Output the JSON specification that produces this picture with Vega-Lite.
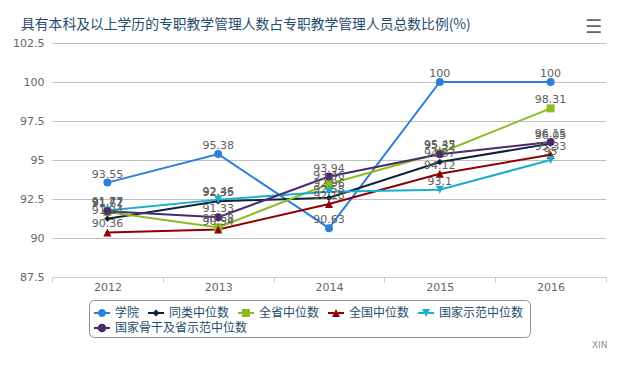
{
  "$schema": "https://vega.github.io/schema/vega-lite/v6.json",
  "width": 554,
  "height": 234,
  "autosize": "none",
  "padding": {"left": 52, "top": 43, "right": 14, "bottom": 101},
  "background": "white",
  "title": {
    "text": "具有本科及以上学历的专职教学管理人数占专职教学管理人员总数比例(%)",
    "anchor": "start",
    "frame": "group",
    "dx": -31,
    "dy": 36,
    "offset": 10,
    "baseline": "alphabetic",
    "font": "Noto Sans CJK SC",
    "fontSize": 13.8,
    "fontWeight": "normal",
    "color": "#274b6d"
  },
  "data": {
    "values": [
      {"year": "2012", "series": "学院", "value": 93.55},
      {"year": "2013", "series": "学院", "value": 95.38},
      {"year": "2014", "series": "学院", "value": 90.63},
      {"year": "2015", "series": "学院", "value": 100},
      {"year": "2016", "series": "学院", "value": 100},
      {"year": "2012", "series": "同类中位数", "value": 91.24},
      {"year": "2013", "series": "同类中位数", "value": 92.35},
      {"year": "2014", "series": "同类中位数", "value": 92.58},
      {"year": "2015", "series": "同类中位数", "value": 94.87},
      {"year": "2016", "series": "同类中位数", "value": 96.05},
      {"year": "2012", "series": "全省中位数", "value": 91.67},
      {"year": "2013", "series": "全省中位数", "value": 90.68},
      {"year": "2014", "series": "全省中位数", "value": 93.46},
      {"year": "2015", "series": "全省中位数", "value": 95.45},
      {"year": "2016", "series": "全省中位数", "value": 98.31},
      {"year": "2012", "series": "全国中位数", "value": 90.36},
      {"year": "2013", "series": "全国中位数", "value": 90.54},
      {"year": "2014", "series": "全国中位数", "value": 92.18},
      {"year": "2015", "series": "全国中位数", "value": 94.12},
      {"year": "2016", "series": "全国中位数", "value": 95.33},
      {"year": "2012", "series": "国家示范中位数", "value": 91.77},
      {"year": "2013", "series": "国家示范中位数", "value": 92.46},
      {"year": "2014", "series": "国家示范中位数", "value": 92.96},
      {"year": "2015", "series": "国家示范中位数", "value": 93.1},
      {"year": "2016", "series": "国家示范中位数", "value": 95},
      {"year": "2012", "series": "国家骨干及省示范中位数", "value": 91.72},
      {"year": "2013", "series": "国家骨干及省示范中位数", "value": 91.33},
      {"year": "2014", "series": "国家骨干及省示范中位数", "value": 93.94},
      {"year": "2015", "series": "国家骨干及省示范中位数", "value": 95.37},
      {"year": "2016", "series": "国家骨干及省示范中位数", "value": 96.15}
    ]
  },
  "encoding": {
    "x": {
      "field": "year",
      "type": "ordinal",
      "bandPosition": 0.5,
      "scale": {"type": "band", "paddingInner": 0, "paddingOuter": 0},
      "axis": {
        "title": "XIN",
        "titleX": 555,
        "titleY": 70,
        "titleAlign": "right",
        "titleAnchor": null,
        "titleBaseline": "alphabetic",
        "titleFont": "DejaVu Sans",
        "titleFontSize": 9,
        "titleFontWeight": "normal",
        "titleColor": "#909090",
        "labelAngle": 0,
        "tickBand": "extent",
        "grid": false,
        "domainColor": "#c0d0e0",
        "tickColor": "#c0d0e0",
        "tickSize": 5,
        "labelColor": "#666666",
        "labelFont": "DejaVu Sans",
        "labelFontSize": 11,
        "labelPadding": -1
      }
    },
    "y": {
      "field": "value",
      "type": "quantitative",
      "scale": {"domain": [87.5, 102.5], "zero": false, "nice": false},
      "axis": {
        "title": "☰",
        "titleAngle": 0,
        "titleX": 541,
        "titleY": -11,
        "titleAlign": "center",
        "titleAnchor": null,
        "titleBaseline": "alphabetic",
        "titleFont": "DejaVu Sans",
        "titleFontSize": 19,
        "titleFontWeight": "bold",
        "titleColor": "#666666",
        "values": [87.5, 90, 92.5, 95, 97.5, 100, 102.5],
        "format": ".4~g",
        "domain": false,
        "ticks": false,
        "gridColor": "#c0c0c0",
        "labelColor": "#666666",
        "labelFont": "DejaVu Sans",
        "labelFontSize": 11,
        "labelPadding": 8
      }
    }
  },
  "layer": [
    {
      "mark": {"type": "line", "strokeWidth": 2},
      "encoding": {
        "color": {
          "field": "series",
          "type": "nominal",
          "scale": {
            "domain": ["学院", "同类中位数", "全省中位数", "全国中位数", "国家示范中位数", "国家骨干及省示范中位数"],
            "range": ["#2f7ed8", "#0d233a", "#8bbc21", "#910000", "#1aadce", "#492970"]
          },
          "legend": null
        }
      }
    },
    {
      "mark": {"type": "point", "filled": true, "opacity": 1, "size": 64},
      "encoding": {
        "color": {
          "field": "series",
          "type": "nominal",
          "scale": {
            "domain": ["学院", "同类中位数", "全省中位数", "全国中位数", "国家示范中位数", "国家骨干及省示范中位数"],
            "range": ["#2f7ed8", "#0d233a", "#8bbc21", "#910000", "#1aadce", "#492970"]
          },
          "legend": null
        },
        "shape": {
          "field": "series",
          "type": "nominal",
          "scale": {
            "domain": ["学院", "同类中位数", "全省中位数", "全国中位数", "国家示范中位数", "国家骨干及省示范中位数"],
            "range": ["circle", "M0,-0.8L0.8,0L0,0.8L-0.8,0Z", "square", "M0,-1L1,1H-1Z", "M-1,-1H1L0,1Z", "circle"]
          },
          "legend": null
        }
      }
    },
    {
      "mark": {"type": "text", "dy": -5, "baseline": "alphabetic", "font": "DejaVu Sans", "fontSize": 11, "color": "#606060"},
      "encoding": {
        "text": {"field": "value", "type": "quantitative", "format": "~g"}
      }
    },
    {
      "transform": [{"filter": {"field": "series", "oneOf": ["学院", "同类中位数", "全省中位数", "全国中位数", "国家示范中位数"]}}],
      "mark": {"type": "point", "filled": true, "opacity": 0},
      "encoding": {
        "color": {
          "field": "series",
          "type": "nominal",
          "scale": {
            "domain": ["学院", "同类中位数", "全省中位数", "全国中位数", "国家示范中位数"],
            "range": ["#2f7ed8", "#0d233a", "#8bbc21", "#910000", "#1aadce"]
          },
          "legend": {
            "title": " ",
            "titleOrient": "bottom",
            "titleFontSize": 12,
            "titlePadding": 1,
            "orient": "none",
            "legendX": 37,
            "legendY": 257,
            "direction": "horizontal",
            "symbolSize": 196,
            "symbolStrokeWidth": 0,
            "labelFont": "Noto Sans CJK SC",
            "labelFontSize": 12,
            "labelColor": "#274b6d",
            "labelOffset": 6,
            "columnPadding": 7,
            "padding": 6,
            "strokeColor": "#909090",
            "cornerRadius": 5,
            "encode": {"symbols": {"update": {"opacity": {"value": 1}}}}
          }
        },
        "shape": {
          "field": "series",
          "type": "nominal",
          "scale": {
            "domain": ["学院", "同类中位数", "全省中位数", "全国中位数", "国家示范中位数"],
            "range": [
              "M-1.15,-0.15H-0.3V0.15H-1.15Z M0.3,-0.15H1.15V0.15H0.3Z M-0.57,0A0.57,0.57,0,1,1,0.57,0A0.57,0.57,0,1,1,-0.57,0Z",
              "M-1.15,-0.15H-0.3V0.15H-1.15Z M0.3,-0.15H1.15V0.15H0.3Z M0,-0.5L0.5,0L0,0.5L-0.5,0Z",
              "M-1.15,-0.15H-0.3V0.15H-1.15Z M0.3,-0.15H1.15V0.15H0.3Z M-0.57,-0.57H0.57V0.57H-0.57Z",
              "M-1.15,-0.15H-0.3V0.15H-1.15Z M0.3,-0.15H1.15V0.15H0.3Z M0,-0.57L0.57,0.57H-0.57Z",
              "M-1.15,-0.15H-0.3V0.15H-1.15Z M0.3,-0.15H1.15V0.15H0.3Z M-0.57,-0.57H0.57L0,0.57Z"
            ]
          },
          "legend": {
            "title": " ",
            "titleOrient": "bottom",
            "titleFontSize": 12,
            "titlePadding": 1,
            "orient": "none",
            "legendX": 37,
            "legendY": 257,
            "direction": "horizontal",
            "symbolSize": 196,
            "symbolStrokeWidth": 0,
            "labelFont": "Noto Sans CJK SC",
            "labelFontSize": 12,
            "labelColor": "#274b6d",
            "labelOffset": 6,
            "columnPadding": 7,
            "padding": 6,
            "strokeColor": "#909090",
            "cornerRadius": 5,
            "encode": {"symbols": {"update": {"opacity": {"value": 1}}}}
          }
        }
      }
    },
    {
      "transform": [{"filter": {"field": "series", "equal": "国家骨干及省示范中位数"}}],
      "mark": {"type": "point", "filled": true, "opacity": 0},
      "encoding": {
        "color": {
          "field": "series",
          "type": "nominal",
          "scale": {"domain": ["国家骨干及省示范中位数"], "range": ["#492970"]},
          "legend": {
            "title": null,
            "orient": "none",
            "legendX": 43,
            "legendY": 278,
            "symbolSize": 196,
            "symbolStrokeWidth": 0,
            "labelFont": "Noto Sans CJK SC",
            "labelFontSize": 12,
            "labelColor": "#274b6d",
            "labelOffset": 6,
            "padding": 0,
            "encode": {"symbols": {"update": {"opacity": {"value": 1}}}}
          }
        },
        "shape": {
          "field": "series",
          "type": "nominal",
          "scale": {
            "domain": ["国家骨干及省示范中位数"],
            "range": ["M-1.15,-0.15H-0.3V0.15H-1.15Z M0.3,-0.15H1.15V0.15H0.3Z M-0.62,0A0.62,0.62,0,1,1,0.62,0A0.62,0.62,0,1,1,-0.62,0Z"]
          },
          "legend": {
            "title": null,
            "orient": "none",
            "legendX": 43,
            "legendY": 278,
            "symbolSize": 196,
            "symbolStrokeWidth": 0,
            "labelFont": "Noto Sans CJK SC",
            "labelFontSize": 12,
            "labelColor": "#274b6d",
            "labelOffset": 6,
            "padding": 0,
            "encode": {"symbols": {"update": {"opacity": {"value": 1}}}}
          }
        }
      }
    }
  ],
  "resolve": {
    "scale": {"color": "independent", "shape": "independent"},
    "legend": {"color": "independent", "shape": "independent"}
  },
  "config": {"view": {"stroke": null}}
}
